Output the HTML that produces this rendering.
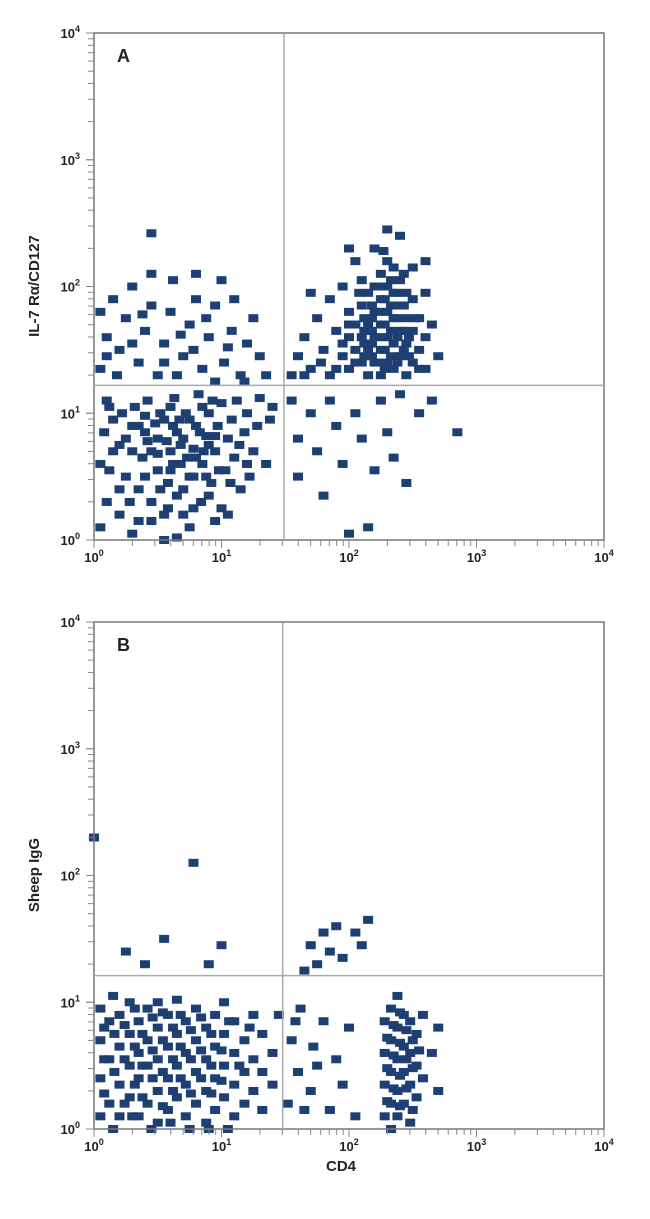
<!DOCTYPE html>
<html><head><meta charset="utf-8">
<style>
body{margin:0;background:#fff;width:650px;height:1214px;overflow:hidden;font-family:"Liberation Sans Narrow","Liberation Sans",sans-serif;}
svg text{font-family:"Liberation Sans Narrow","Liberation Sans",sans-serif;font-weight:bold;fill:#222;}
</style></head>
<body>
<svg id="chart" width="650" height="1214" xmlns="http://www.w3.org/2000/svg"></svg>
<script>
// decade tick labels (exponents)
const tickExps = [0,1,2,3,4];
// gates (log10 values)
const gateA = [1.49, 1.22];
const gateB = [1.48, 1.21];
// Panel A events (log10 CD4, log10 IL-7Ra)
const ptsA_LL = [
[0.05,0.1],[0.1,0.3],[0.05,0.6],[0.08,0.85],[0.1,1.1],[0.2,0.2],[0.25,0.5],[0.2,0.75],[0.22,1.0],[0.3,0.9],[0.35,0.15],[0.35,0.4],[0.38,0.65],[0.4,0.85],[0.42,1.1],[0.45,0.3],[0.5,0.55],[0.5,0.8],[0.52,1.0],[0.55,0.2],[0.58,0.45],[0.6,0.7],[0.62,0.9],[0.63,1.12],[0.65,0.35],[0.68,0.6],[0.7,0.8],[0.72,1.0],[0.75,0.1],[0.75,0.5],[0.78,0.72],[0.8,0.9],[0.82,1.15],[0.84,0.3],[0.85,0.6],[0.88,0.82],[0.9,1.0],[0.92,0.45],[0.95,0.7],[0.97,0.9],[1.0,1.08],[1.0,0.25],[1.03,0.55],[1.05,0.8],[1.08,0.95],[1.1,0.65],[1.12,1.1],[1.15,0.4],[1.18,0.85],[1.2,1.0],[1.25,0.7],[1.28,0.9],[1.3,1.12],[1.35,0.6],[1.38,0.95],[0.3,0.05],[0.55,0.0],[0.65,0.02],[0.45,0.7],[0.55,0.95],[0.65,0.85],[0.7,0.4],[0.75,0.95],[0.8,0.65],[0.85,1.05],[0.9,0.75],[0.6,1.05],[0.48,0.92],[0.4,0.5],[0.3,0.7],[0.15,0.95],[0.12,0.55],[1.05,0.2],[0.95,0.15],[0.2,0.4],[0.58,0.25],[0.7,0.2],[0.88,0.5],[1.22,0.5],[1.4,1.05],
[0.15,0.7],[0.28,0.3],[0.32,1.05],[0.45,0.15],[0.52,0.4],[0.6,0.55],[0.67,0.95],[0.73,0.65],[0.78,0.25],[0.83,0.85],[0.9,0.35],[0.93,1.1],[0.98,0.55],[1.07,0.45],[1.14,0.75],[1.2,0.6],[0.42,0.78],[0.57,0.78],[0.68,0.75],[0.5,0.68],[0.62,0.6],[0.78,0.5],[0.86,0.7],[0.95,0.82],[0.35,0.9],[0.25,0.8],[0.12,1.05],[0.4,0.98]
];
const ptsA_UL = [
[0.05,1.35],[0.05,1.8],[0.1,1.6],[0.15,1.9],[0.2,1.5],[0.25,1.75],[0.3,2.0],[0.35,1.4],[0.4,1.65],[0.45,1.85],[0.5,1.3],[0.55,1.55],[0.6,1.8],[0.62,2.05],[0.7,1.45],[0.75,1.7],[0.8,1.9],[0.85,1.35],[0.9,1.6],[0.95,1.85],[1.0,2.05],[1.02,1.4],[1.08,1.65],[1.1,1.9],[1.15,1.3],[1.2,1.55],[1.25,1.75],[1.3,1.45],[1.35,1.3],[0.45,2.1],[0.8,2.1],[0.18,1.3],[0.65,1.3],[1.18,1.25],[0.45,2.42],[0.95,1.25],
[0.1,1.45],[0.3,1.55],[0.38,1.78],[0.55,1.4],[0.68,1.62],[0.78,1.5],[0.88,1.75],[1.05,1.52]
];
const ptsA_UR = [
[1.55,1.3],[1.6,1.45],[1.65,1.6],[1.7,1.35],[1.75,1.75],[1.8,1.5],[1.85,1.3],[1.85,1.9],[1.9,1.65],[1.95,1.45],[1.95,2.0],[2.0,1.35],[2.0,1.6],[2.0,1.8],[2.05,1.5],[2.05,1.7],[2.05,2.2],[2.1,1.4],[2.1,1.6],[2.1,1.85],[2.1,2.05],[2.15,1.3],[2.15,1.5],[2.15,1.7],[2.15,1.95],[2.2,1.4],[2.2,1.6],[2.2,1.8],[2.2,2.0],[2.2,2.3],[2.25,1.3],[2.25,1.5],[2.25,1.7],[2.25,1.9],[2.25,2.1],[2.3,1.4],[2.3,1.6],[2.3,1.8],[2.3,2.0],[2.3,2.2],[2.35,1.35],[2.35,1.55],[2.35,1.75],[2.35,1.95],[2.35,2.15],[2.4,1.45],[2.4,1.65],[2.4,1.85],[2.4,2.05],[2.4,2.4],[2.45,1.3],[2.45,1.55],[2.45,1.75],[2.45,1.95],[2.5,1.4],[2.5,1.65],[2.5,1.9],[2.5,2.15],[2.55,1.5],[2.55,1.75],[2.6,1.35],[2.6,1.6],[2.6,1.95],[2.65,1.7],[2.7,1.45],[1.7,1.95],[2.0,2.3],[2.3,2.45],[2.6,2.2],
[2.12,1.45],[2.12,1.55],[2.12,1.65],[2.12,1.75],[2.18,1.45],[2.18,1.55],[2.18,1.65],[2.18,1.75],[2.18,1.85],[2.24,1.4],[2.24,1.6],[2.24,1.8],[2.24,2.0],[2.28,1.35],[2.28,1.5],[2.28,1.7],[2.28,1.9],[2.33,1.45],[2.33,1.65],[2.33,1.85],[2.33,2.05],[2.38,1.4],[2.38,1.6],[2.38,1.75],[2.38,1.95],[2.43,1.5],[2.43,1.65],[2.43,1.85],[2.47,1.6],[2.47,1.45],[2.52,1.75],[1.95,1.55],[2.05,1.4],[2.0,1.7],[2.08,1.95],[2.55,1.35],[1.9,1.35],[1.78,1.4],[1.65,1.3],[2.27,2.28],[2.43,2.1]
];
const ptsA_LR = [
[1.55,1.1],[1.6,0.8],[1.6,0.5],[1.7,1.0],[1.75,0.7],[1.8,0.35],[1.85,1.1],[1.9,0.9],[1.95,0.6],[2.0,0.05],[2.05,1.0],[2.1,0.8],[2.15,0.1],[2.2,0.55],[2.25,1.1],[2.3,0.85],[2.35,0.65],[2.4,1.15],[2.45,0.45],[2.55,1.0],[2.65,1.1],[2.85,0.85]
];
// Panel B events (log10 CD4, log10 Sheep IgG)
const ptsB_LL = [
[0.05,0.1],[0.05,0.4],[0.05,0.7],[0.05,0.95],[0.12,0.2],[0.12,0.55],[0.12,0.85],[0.2,0.1],[0.2,0.35],[0.2,0.65],[0.2,0.9],[0.28,0.25],[0.28,0.5],[0.28,0.75],[0.28,1.0],[0.35,0.1],[0.35,0.4],[0.35,0.6],[0.35,0.85],[0.42,0.2],[0.42,0.5],[0.42,0.7],[0.42,0.95],[0.5,0.05],[0.5,0.3],[0.5,0.55],[0.5,0.8],[0.5,1.0],[0.58,0.15],[0.58,0.4],[0.58,0.65],[0.58,0.9],[0.65,0.25],[0.65,0.5],[0.65,0.75],[0.65,1.02],[0.72,0.1],[0.72,0.35],[0.72,0.6],[0.72,0.85],[0.8,0.2],[0.8,0.45],[0.8,0.7],[0.8,0.95],[0.88,0.05],[0.88,0.3],[0.88,0.55],[0.88,0.8],[0.95,0.15],[0.95,0.4],[0.95,0.65],[0.95,0.9],[1.02,0.25],[1.02,0.5],[1.02,0.75],[1.02,1.0],[1.1,0.1],[1.1,0.35],[1.1,0.6],[1.1,0.85],[1.18,0.2],[1.18,0.45],[1.18,0.7],[1.25,0.3],[1.25,0.55],[1.25,0.9],[1.32,0.15],[1.32,0.45],[1.32,0.75],[1.4,0.35],[1.4,0.6],[1.45,0.9],[0.15,0.0],[0.45,0.0],[0.75,0.0],[1.05,0.0],
[0.08,0.28],[0.08,0.55],[0.08,0.8],[0.16,0.45],[0.16,0.75],[0.24,0.2],[0.24,0.55],[0.24,0.82],[0.32,0.35],[0.32,0.65],[0.32,0.95],[0.38,0.25],[0.38,0.5],[0.38,0.75],[0.46,0.4],[0.46,0.62],[0.46,0.88],[0.54,0.18],[0.54,0.45],[0.54,0.7],[0.54,0.92],[0.62,0.3],[0.62,0.55],[0.62,0.8],[0.68,0.4],[0.68,0.65],[0.68,0.9],[0.76,0.28],[0.76,0.55],[0.76,0.78],[0.84,0.4],[0.84,0.62],[0.84,0.88],[0.92,0.28],[0.92,0.5],[0.92,0.75],[1.0,0.38],[1.0,0.62],[1.06,0.85],[1.14,0.5],[1.22,0.8],[0.3,0.1],[0.6,0.05],[0.9,0.0],[0.15,1.05]
];
const ptsB_LR = [
[1.52,0.2],[1.55,0.7],[1.6,0.45],[1.62,0.95],[1.7,0.3],[1.72,0.65],[1.8,0.85],[1.85,0.15],[1.9,0.55],[1.95,0.35],[2.0,0.8],[2.05,0.1],
[2.28,0.1],[2.28,0.35],[2.28,0.6],[2.28,0.85],[2.33,0.0],[2.33,0.2],[2.33,0.45],[2.33,0.7],[2.33,0.95],[2.38,0.1],[2.38,0.3],[2.38,0.55],[2.38,0.8],[2.38,1.05],[2.43,0.2],[2.43,0.45],[2.43,0.65],[2.43,0.9],[2.48,0.05],[2.48,0.35],[2.48,0.6],[2.48,0.85],[2.53,0.25],[2.53,0.5],[2.53,0.75],[2.58,0.4],[2.58,0.9],[2.65,0.6],[2.7,0.3],[2.7,0.8],
[2.3,0.22],[2.3,0.48],[2.3,0.72],[2.35,0.32],[2.35,0.58],[2.35,0.82],[2.4,0.18],[2.4,0.42],[2.4,0.68],[2.4,0.92],[2.45,0.32],[2.45,0.55],[2.45,0.78],[2.5,0.15],[2.5,0.48],[2.5,0.7],[2.55,0.62],[1.65,0.15],[1.75,0.5],[1.58,0.85]
];
const ptsB_UP = [
[0.25,1.4],[0.4,1.3],[0.55,1.5],[0.78,2.1],[0.9,1.3],[1.0,1.45],[1.65,1.25],[1.7,1.45],[1.75,1.3],[1.8,1.55],[1.85,1.4],[1.9,1.6],[1.95,1.35],[2.05,1.55],[2.1,1.45],[2.15,1.65],[0.0,2.3]
];

const NS="http://www.w3.org/2000/svg";
const svg=document.getElementById('chart');
const COL="#1d3f72";
function el(tag,attrs,parent){const e=document.createElementNS(NS,tag);for(const k in attrs)e.setAttribute(k,attrs[k]);(parent||svg).appendChild(e);return e;}

function panel(name,top,letter,yTitle,groups,gate,showX){
  const L=94,R=604,T=top,B=top+507;
  const xs=v=>L+(R-L)*v/4;
  const ys=v=>B-(B-T)*v/4;
  const g=el('g',{});
  
  
  const pg=el('g',{},g);
  
  
  groups.forEach(arr=>arr.forEach(p=>{
    const r=el('rect',{x:xs(p[0])-5,y:ys(p[1])-4,width:10,height:8,fill:COL},pg);
    
    
  }));
  const fr=el('rect',{x:L,y:T,width:R-L,height:B-T,fill:'none',stroke:'#777','stroke-width':1.5},g);
  
  
  const gv=el('line',{x1:xs(gate[0]),x2:xs(gate[0]),y1:T,y2:B,stroke:'#aaa','stroke-width':1.5},g);
  
  
  const gh=el('line',{x1:L,x2:R,y1:ys(gate[1]),y2:ys(gate[1]),stroke:'#aaa','stroke-width':1.5},g);
  
  
  for(let d=0;d<4;d++)for(let m=1;m<=10;m++){
    const v=d+Math.log10(m);
    const major=(m===1||m===10);
    el('line',{x1:xs(v),x2:xs(v),y1:B,y2:B+(major?8:6),stroke:'#888','stroke-width':1},g);
    el('line',{x1:L,x2:L-(major?8:6),y1:ys(v),y2:ys(v),stroke:'#888','stroke-width':1},g);
  }
  tickExps.forEach(e=>{
    const t=el('text',{x:xs(e),y:B+22,'text-anchor':'middle','font-size':13},g);
    t.innerHTML='10<tspan dy="-6" font-size="9">'+e+'</tspan>';
    
    
    const t2=el('text',{x:L-14,y:ys(e)+5,'text-anchor':'end','font-size':13},g);
    t2.innerHTML='10<tspan dy="-6" font-size="9">'+e+'</tspan>';
    
    
  });
  const lt=el('text',{x:L+23,y:T+29,'font-size':18},g);
  lt.textContent=letter;
  
  
  const yt=el('text',{x:0,y:0,'font-size':15,'text-anchor':'middle',transform:'translate(39,'+(T+253)+') rotate(-90)'},g);
  yt.textContent=yTitle;
  
  
  if(showX){
    const xt=el('text',{x:341,y:B+42,'font-size':15,'text-anchor':'middle'},g);
    xt.textContent='CD4';
    
    
  }
}
panel('panel-a',33,'A','IL-7 Rα/CD127',[ptsA_LL,ptsA_UL,ptsA_UR,ptsA_LR],gateA,false);
panel('panel-b',622,'B','Sheep IgG',[ptsB_LL,ptsB_LR,ptsB_UP],gateB,true);
</script>
</body></html>
